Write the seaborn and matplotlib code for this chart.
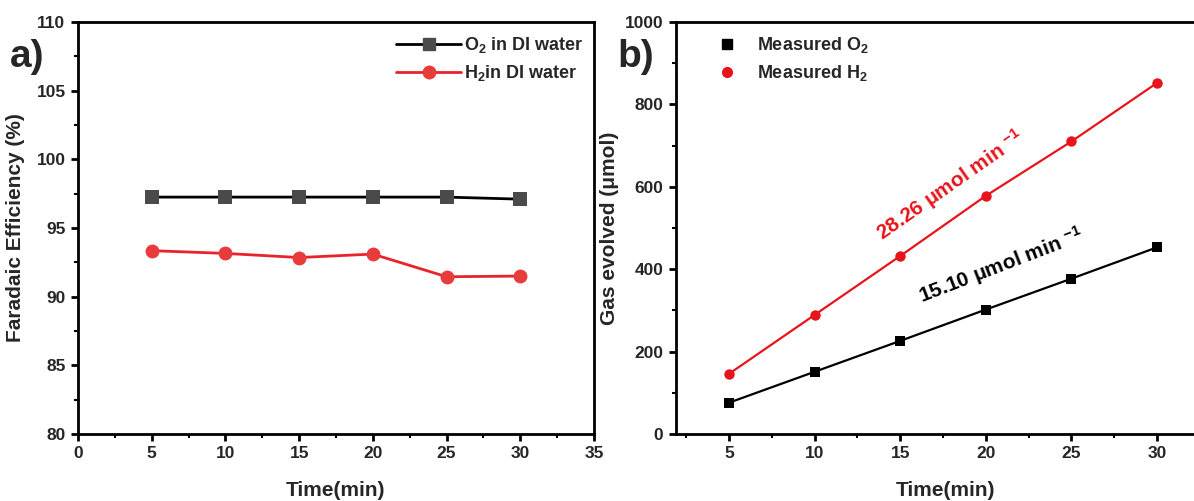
import numpy as np
import pandas as pd
import matplotlib
matplotlib.use("Agg")
import matplotlib.pyplot as plt
import seaborn as sns
from matplotlib.ticker import MultipleLocator
from matplotlib.lines import Line2D

# ---- data ----
time_min = [5, 10, 15, 20, 25, 30]
fe_o2 = [97.25, 97.25, 97.25, 97.25, 97.25, 97.1]
fe_h2 = [93.35, 93.15, 92.85, 93.1, 91.45, 91.5]
gas_o2 = [76, 151, 226, 302, 377, 453]
gas_h2 = [146, 289, 432, 578, 710, 852]
label_fe_o2 = "O$_\\mathbf{2}$ in DI water"
label_fe_h2 = "H$_\\mathbf{2}$in DI water"
label_gas_o2 = "Measured O$_\\mathbf{2}$"
label_gas_h2 = "Measured H$_\\mathbf{2}$"
rate_o2 = "15.10 \u03bcmol min $^{\\mathbf{-1}}$"
rate_h2 = "28.26 \u03bcmol min $^{\\mathbf{-1}}$"

sns.set_style("ticks")
plt.rcParams['font.family'] = ['Liberation Sans', 'DejaVu Sans']
plt.rcParams['font.weight'] = 'bold'
plt.rcParams['mathtext.fontset'] = 'custom'
plt.rcParams['mathtext.rm'] = 'Liberation Sans:bold'
plt.rcParams['mathtext.bf'] = 'Liberation Sans:bold'
plt.rcParams['mathtext.default'] = 'bf'

fig = plt.figure(figsize=(11.94, 5.01), dpi=100)
axa = fig.add_axes([78/1194, 67/501, (594-78)/1194, (434-22)/501])
axb = fig.add_axes([676/1194, 67/501, (1215-676)/1194, (434-22)/501])

RED = "#e8232b"
# ---- panel a ----
dfa = pd.DataFrame({"t": time_min * 2, "v": fe_o2 + fe_h2,
                    "s": [label_fe_o2] * 6 + [label_fe_h2] * 6})
sns.lineplot(data=dfa, x="t", y="v", hue="s", style="s",
             palette={label_fe_o2: "black", label_fe_h2: RED},
             markers={label_fe_o2: "s", label_fe_h2: "o"}, dashes=False,
             linewidth=2, markersize=10, markeredgewidth=0, ax=axa, legend=False)
lines = axa.get_lines()
lines[0].set_markerfacecolor("#4a4a4a")
lines[1].set_markerfacecolor("#e83c3c")
ha = [Line2D([], [], color="black", lw=2, marker="s", ms=8, mfc="#4a4a4a", mec="#4a4a4a"),
      Line2D([], [], color=RED, lw=2, marker="o", ms=9, mfc="#e83c3c", mec="#e83c3c")]
axa.legend(ha, [label_fe_o2, label_fe_h2], loc="upper right", frameon=False,
           fontsize=13, handlelength=3.6, handletextpad=0.15, labelspacing=0.45,
           bbox_to_anchor=(1.0, 0.995), borderaxespad=0.2)
axa.set_xlim(0, 35)
axa.set_ylim(80, 110)
axa.xaxis.set_major_locator(MultipleLocator(5))
axa.xaxis.set_minor_locator(MultipleLocator(2.5))
axa.yaxis.set_major_locator(MultipleLocator(5))
axa.yaxis.set_minor_locator(MultipleLocator(2.5))
axa.set_xlabel("Time(min)", fontsize=15, fontweight="bold", labelpad=14)
axa.set_ylabel("Faradaic Efficiency (%)", fontsize=15, fontweight="bold", labelpad=8)

# ---- panel b ----
dfb = pd.DataFrame({"t": time_min * 2, "v": gas_o2 + gas_h2,
                    "s": [label_gas_o2] * 6 + [label_gas_h2] * 6})
sns.lineplot(data=dfb, x="t", y="v", hue="s", style="s",
             palette={label_gas_o2: "black", label_gas_h2: "#e8141c"},
             markers={label_gas_o2: "s", label_gas_h2: "o"}, dashes=False,
             linewidth=1.6, markersize=7.5, markeredgewidth=0, ax=axb, legend=False)
hb = [Line2D([], [], ls="none", color="black", marker="s", ms=7),
      Line2D([], [], ls="none", color="#e8141c", marker="o", ms=7)]
axb.legend(hb, [label_gas_o2, label_gas_h2], loc="upper left", frameon=False,
           fontsize=13, handlelength=1.0, handletextpad=1.2, labelspacing=0.45,
           bbox_to_anchor=(0.057, 0.995), borderaxespad=0.2)
axb.set_xlim(1.904, 33.39)
axb.set_ylim(0, 1000)
axb.xaxis.set_major_locator(MultipleLocator(5))
axb.xaxis.set_minor_locator(MultipleLocator(2.5))
axb.yaxis.set_major_locator(MultipleLocator(200))
axb.yaxis.set_minor_locator(MultipleLocator(100))
axb.set_xlabel("Time(min)", fontsize=15, fontweight="bold", labelpad=14)
axb.set_ylabel("Gas evolved (\u03bcmol)", fontsize=15, fontweight="bold", labelpad=4)
axb.text(17.9, 604, rate_h2, color="#e8141c", fontsize=15, fontweight="bold",
         rotation=35, ha="center", va="center", rotation_mode="anchor")
axb.text(20.9, 408, rate_o2, color="black", fontsize=15, fontweight="bold",
         rotation=21, ha="center", va="center", rotation_mode="anchor")

for ax in (axa, axb):
    for sp in ax.spines.values():
        sp.set_visible(True)
        sp.set_linewidth(2)
        sp.set_color("black")
    ax.tick_params(which="major", direction="out", length=5, width=2,
                   labelsize=12.5, color="black", pad=4)
    ax.tick_params(which="minor", direction="out", length=3, width=1.5, color="black")
    for lab in ax.get_xticklabels() + ax.get_yticklabels():
        lab.set_fontweight("bold")

fig.text(0.008, 0.866, "a)", fontsize=28, fontweight="bold")
fig.text(0.517, 0.866, "b)", fontsize=28, fontweight="bold")

fig.savefig("out.png", dpi=100)
